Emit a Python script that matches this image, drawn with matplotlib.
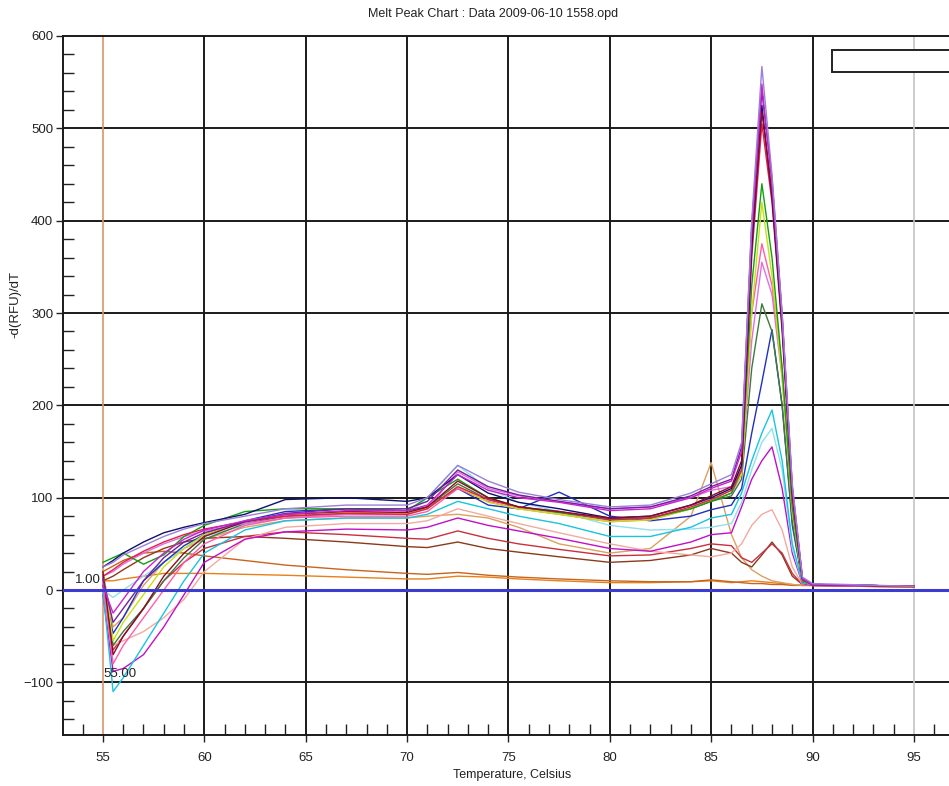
import matplotlib
matplotlib.use("Agg")
import matplotlib.pyplot as plt
from matplotlib.patches import Rectangle
from matplotlib.ticker import MultipleLocator

plt.rcParams['font.family'] = ['Liberation Sans', 'DejaVu Sans']

title = "Melt Peak Chart : Data 2009-06-10 1558.opd"
x_label = "Temperature, Celsius"
y_label = "-d(RFU)/dT"

temps = [55, 55.5, 56, 57, 58, 59, 60, 62, 64, 67, 70, 71, 72.5, 74, 75.5, 77.5,
         80, 82, 84, 85, 86, 86.5, 87, 87.5, 88, 88.5, 89, 89.5, 90, 95]

lavender = [25, 30, 38, 48, 58, 66, 72, 80, 88, 92, 92, 100, 135, 118, 106, 98,
            90, 92, 105, 115, 125, 160, 400, 567, 450, 300, 115, 14, 7, 4]
magenta = [5, -25, -10, 20, 40, 55, 65, 75, 82, 86, 86, 92, 125, 108, 100, 95,
           86, 88, 100, 110, 118, 150, 390, 548, 440, 295, 110, 12, 6, 4]
purple = [12, -35, -20, 10, 35, 52, 62, 74, 83, 88, 88, 96, 130, 112, 103, 96,
          88, 90, 102, 112, 120, 155, 395, 540, 445, 298, 112, 13, 6, 4]
dark_red = [20, -70, -50, -20, 15, 40, 58, 74, 82, 85, 84, 90, 118, 100, 90, 85,
            78, 80, 92, 102, 112, 140, 380, 518, 430, 290, 105, 12, 6, 4]
navy = [25, 32, 40, 52, 62, 68, 73, 82, 98, 100, 96, 100, 125, 105, 95, 88,
        78, 80, 92, 100, 110, 135, 370, 525, 425, 285, 105, 12, 6, 4]
red = [15, 22, 30, 42, 52, 60, 66, 74, 80, 83, 82, 88, 112, 98, 90, 85,
       76, 78, 90, 98, 108, 130, 360, 505, 420, 280, 100, 11, 6, 4]
green = [30, 35, 40, 28, 38, 58, 70, 85, 88, 88, 86, 100, 120, 100, 90, 84,
         76, 78, 88, 96, 105, 130, 330, 440, 360, 240, 90, 10, 6, 4]
lime = [20, -55, -35, -5, 25, 45, 60, 75, 82, 84, 83, 88, 112, 95, 88, 82,
        74, 76, 88, 98, 108, 125, 300, 420, 340, 230, 85, 10, 6, 4]
pink = [10, -80, -60, -30, 0, 30, 50, 70, 78, 80, 80, 85, 110, 96, 88, 82,
        74, 76, 88, 97, 105, 125, 300, 375, 330, 240, 90, 10, 6, 4]
light_magenta = [15, 20, 28, 40, 50, 58, 64, 72, 78, 82, 82, 88, 128, 110, 102, 96,
                 88, 90, 100, 108, 112, 130, 270, 355, 320, 230, 85, 10, 6, 4]
dark_green = [18, -60, -45, -20, 10, 35, 55, 72, 80, 83, 82, 90, 115, 98, 90, 84,
              77, 78, 88, 96, 102, 120, 240, 310, 280, 200, 75, 9, 6, 4]
blue = [5, -47, -30, 10, 30, 48, 60, 75, 85, 88, 86, 90, 110, 92, 88, 106,
        80, 75, 80, 87, 92, 110, 170, 225, 282, 200, 70, 10, 6, 4]
cyan = [0, -110, -95, -60, -25, 10, 40, 65, 75, 78, 78, 82, 96, 88, 80, 72,
        58, 58, 68, 78, 82, 105, 140, 170, 195, 140, 50, 8, 6, 4]
light_cyan = [0, -8, 0, 15, 30, 45, 58, 70, 78, 82, 82, 100, 135, 110, 95, 85,
              70, 65, 66, 68, 72, 95, 130, 160, 175, 130, 45, 8, 6, 4]
deep_magenta = [-5, -88, -85, -70, -40, -5, 30, 55, 63, 66, 65, 68, 78, 70, 64, 56,
                45, 42, 52, 60, 62, 90, 120, 140, 155, 110, 40, 7, 5, 4]
salmon = [5, -60, -55, -45, -30, -10, 20, 55, 68, 72, 72, 75, 88, 80, 72, 62,
          50, 42, 38, 36, 40, 50, 70, 82, 87, 65, 25, 6, 5, 4]
brick = [15, -65, -50, -20, 10, 30, 45, 58, 63, 60, 56, 55, 64, 56, 50, 44,
         37, 38, 45, 50, 48, 35, 30, 40, 50, 40, 18, 6, 5, 4]
brown = [10, 15, 22, 35, 45, 52, 56, 58, 56, 52, 47, 46, 52, 45, 41, 36,
         30, 32, 38, 45, 40, 30, 25, 38, 52, 38, 15, 6, 5, 4]
tan = [20, -40, -30, 5, 30, 45, 55, 68, 75, 78, 78, 80, 82, 78, 68, 50,
       40, 45, 80, 138, 60, 35, 22, 15, 10, 8, 6, 5, 5, 4]
orange = [10, 10, 12, 15, 18, 18, 18, 17, 16, 14, 12, 12, 15, 14, 12, 10,
          8, 8, 9, 10, 8, 9, 10, 9, 8, 7, 6, 5, 5, 3]
rust = [20, 26, 32, 40, 42, 40, 37, 32, 27, 22, 18, 17, 19, 16, 14, 12,
        10, 9, 9, 11, 9, 8, 7, 7, 6, 6, 5, 5, 5, 3]

series = [
    (orange, '#e8801a'), (rust, '#c8641e'), (tan, '#dca060'), (brown, '#8b3a1a'),
    (brick, '#c83040'), (salmon, '#f2aaa0'), (deep_magenta, '#c010c8'),
    (light_cyan, '#90e0f0'), (cyan, '#18c4e0'), (blue, '#2030c0'),
    (dark_green, '#3d7a3d'), (light_magenta, '#e070e0'), (pink, '#ff5ca8'),
    (lime, '#c8e010'), (green, '#10a010'), (red, '#e0204a'), (navy, '#10106e'),
    (dark_red, '#8b0a2a'), (purple, '#7020a0'), (magenta, '#cc22cc'),
    (lavender, '#9a80d8'),
]

W, H = 949, 786
fig = plt.figure(figsize=(W / 100, H / 100), dpi=100)
left, right, top, bottom = 63, 949, 36, 735
ax = fig.add_axes([left / W, 1 - bottom / H, (right - left) / W, (bottom - top) / H])
ax.set_xlim(53.03, 96.73)
ax.set_ylim(-157, 600)

# grid lines
for xv in range(60, 95, 5):
    ax.axvline(xv, color='#1a1a1a', lw=1.4, zorder=1)
for yv in [-100, 100, 200, 300, 400, 500]:
    ax.axhline(yv, color='#1a1a1a', lw=1.4, zorder=1)
ax.axvline(55, color='#d8956a', lw=1.2, zorder=1)
ax.axvline(95, color='#c4c4c4', lw=1.2, zorder=1)

for ys, c in series:
    ax.plot(temps, ys, color=c, lw=1.0, zorder=2)

ax.axhline(0, color='#3c3cd0', lw=2.2, zorder=3)

for s in ['right']:
    ax.spines[s].set_visible(False)
for s in ['left', 'bottom', 'top']:
    ax.spines[s].set_color('#1a1a1a')
    ax.spines[s].set_linewidth(1.4)

ax.set_xticks(range(55, 96, 5))
ax.xaxis.set_minor_locator(MultipleLocator(1))
ax.set_yticks(range(-100, 601, 100))
ax.yaxis.set_minor_locator(MultipleLocator(20))
ax.tick_params(which='major', direction='out', length=5, width=1, colors='#222222',
               labelsize=9.5, pad=7)
ax.tick_params(which='minor', direction='in', length=8, width=1, colors='#222222')
ax.tick_params(axis='y', which='major', pad=2)

ax.text(54.9, 4, "1.00", ha='right', va='bottom', fontsize=9.5, color='#222222')
ax.text(55.0, -84, "55.00", ha='left', va='top', fontsize=9.5, color='#222222')

ax.add_patch(Rectangle((0.8685, 0.9485), 0.2, 0.0315, transform=ax.transAxes,
                       facecolor='white', edgecolor='#222222', lw=1.4,
                       clip_on=False, zorder=5))

fig.text(493 / W, 1 - 14 / H, title, ha='center', va='center', fontsize=9, color='#222222')
fig.text(512 / W, 1 - 775 / H, x_label, ha='center', va='center', fontsize=9, color='#222222')
fig.text(15 / W, 1 - 305 / H, y_label, ha='center', va='center', rotation=90,
         fontsize=9.5, color='#222222')

fig.savefig("out.png", dpi=100)
